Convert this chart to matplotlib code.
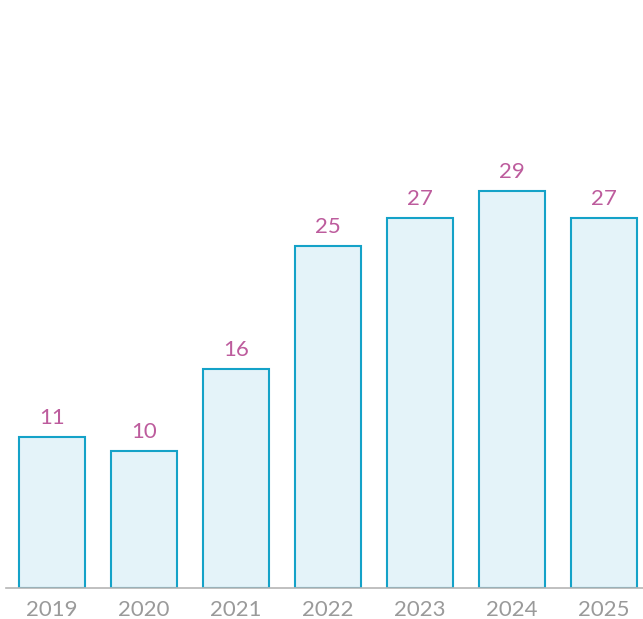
import matplotlib.pyplot as plt

years = ["2019", "2020", "2021", "2022", "2023", "2024", "2025"]
values = [11, 10, 16, 25, 27, 29, 27]

plt.rcParams['font.family'] = ['Lato', 'DejaVu Sans']

fig = plt.figure(figsize=(6.43, 6.19), dpi=100)
# axes runs off the right edge, so the last bar sits near the border
ax = fig.add_axes([6 / 643, 31 / 619, 644 / 643, 548 / 619])

x = range(len(years))
bars = ax.bar(x, values, width=0.72, color="#e4f3f9", edgecolor="#14a2c8",
              linewidth=1.5, zorder=2)

for b, v in zip(bars, values):
    ax.text(b.get_x() + b.get_width() / 2, v + 0.65, str(v),
            ha="center", va="bottom", color="#bd5c9d", fontsize=16)

ax.set_xlim(-0.5, 6.5)
ax.set_ylim(0, 40)
ax.set_xticks(list(x))
ax.set_xticklabels(years, color="#9a9a9a", fontsize=16)
ax.tick_params(axis="x", length=0, pad=9)
ax.set_yticks([])

for side in ["top", "right", "left"]:
    ax.spines[side].set_visible(False)
ax.spines["bottom"].set_color("#b5b5b5")
ax.spines["bottom"].set_linewidth(1.2)

fig.savefig("out.png", dpi=100)
